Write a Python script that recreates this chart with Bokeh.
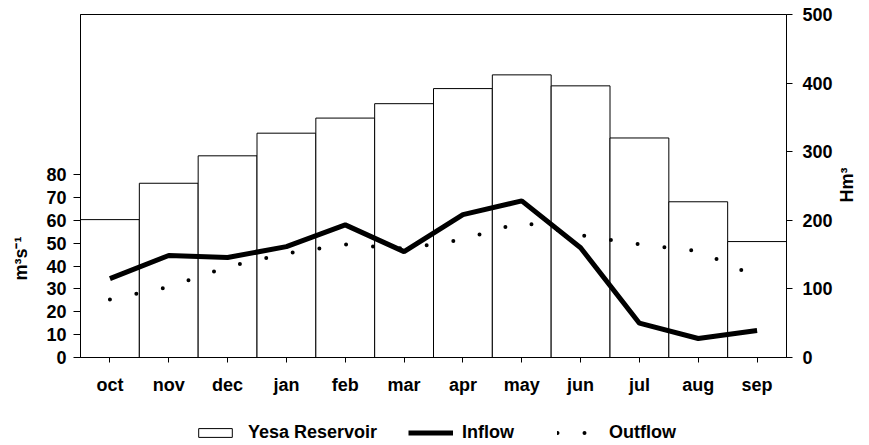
import math
from bokeh.plotting import figure
from bokeh.layouts import column
from bokeh.models import (Range1d, LinearAxis, FixedTicker, Legend, LegendItem,
                          ColumnDataSource, FactorRange)
from bokeh.embed import file_html
from bokeh.resources import INLINE

months = ["oct", "nov", "dec", "jan", "feb", "mar", "apr", "may", "jun", "jul", "aug", "sep"]
reservoir = [201, 254, 294, 327, 349, 370, 392, 412, 396, 320, 227, 169]   # Hm3
inflow = [34.5, 44.6, 43.7, 48.5, 58.0, 46.3, 62.5, 68.5, 48.0, 15.0, 8.3, 11.8]  # m3/s
outflow = [25.4, 30.8, 39.7, 45.5, 49.4, 47.6, 51.6, 59.2, 53.5, 49.5, 46.5, 35.3]  # m3/s
left_ticks = [0, 10, 20, 30, 40, 50, 60, 70, 80]
right_ticks = [0, 100, 200, 300, 400, 500]
legend_labels = ["Yesa Reservoir", "Inflow", "Outflow"]

FONT = "Liberation Sans"
FS = "18px"

src = ColumnDataSource(dict(month=months, reservoir=reservoir, inflow=inflow, outflow=outflow))

p = figure(width=869, height=400, x_range=FactorRange(*months, range_padding=0),
           y_range=Range1d(0, 150), output_backend="svg", toolbar_location=None,
           title=None, min_border_left=80, min_border_right=79, min_border_top=14,
           min_border_bottom=43)
p.extra_y_ranges = {"vol": Range1d(0, 500)}
p.grid.visible = False
p.outline_line_color = "black"
p.outline_line_width = 1
p.background_fill_color = "white"
p.border_fill_color = "white"

bar_style = dict(fill_color="white", line_color="black", line_width=1)
in_style = dict(line_color="black", line_width=5)
out_style = dict(line_color="black", line_width=4, line_dash="0 27", line_cap="round")

p.vbar(x="month", top="reservoir", width=1.0, source=src, y_range_name="vol", **bar_style)
p.line(x="month", y="inflow", source=src, **in_style)
p.line(x="month", y="outflow", source=src, **out_style)

def style_axis(ax):
    ax.major_label_text_font = FONT
    ax.major_label_text_font_style = "bold"
    ax.major_label_text_font_size = FS
    ax.major_label_text_color = "black"
    ax.axis_label_text_font = FONT
    ax.axis_label_text_font_style = "bold"
    ax.axis_label_text_font_size = FS
    ax.axis_label_text_color = "black"
    ax.axis_line_color = "black"
    ax.major_tick_line_color = "black"
    ax.minor_tick_line_color = None
    ax.major_tick_in = 0

xa = p.xaxis[0]
style_axis(xa)
xa.major_tick_out = 5
xa.major_label_standoff = 12

ya = p.yaxis[0]
style_axis(ya)
ya.ticker = FixedTicker(ticks=left_ticks)
ya.major_tick_out = 7
ya.major_label_standoff = 7
ya.axis_label = "m³s⁻¹" + "\u00a0" * 29
ya.axis_label_standoff = 12

ra = LinearAxis(y_range_name="vol", ticker=FixedTicker(ticks=right_ticks))
style_axis(ra)
ra.major_tick_out = 6
ra.major_label_standoff = 10
ra.axis_label = "Hm³"
ra.axis_label_standoff = 11
if "axis_label_orientation" in ra.properties():
    ra.axis_label_orientation = math.pi / 2
    if "axis_label_align" in ra.properties():
        ra.axis_label_align = "start"
        ra.axis_label = "\u00a0" * 31 + "Hm³"
p.add_layout(ra, "right")

# legend strip below the chart (dummy renderers sit outside the visible range)
lf = figure(width=869, height=45, x_range=Range1d(0, 869), y_range=Range1d(0, 45),
            output_backend="svg", toolbar_location=None, title=None,
            x_axis_type=None, y_axis_type=None, min_border=0)
lf.grid.visible = False
lf.outline_line_color = None
lf.background_fill_color = "white"
r1 = lf.vbar(x=[-100], top=[-50], width=1.0, **bar_style)
r2 = lf.line(x=[-100, -90], y=[-50, -50], **in_style)
r3 = lf.line(x=[-100, -90], y=[-50, -50], **out_style)

def mk_legend(label, rend, x, gw, standoff):
    return Legend(items=[LegendItem(label=label, renderers=[rend])], location=(x, 2),
                  orientation="horizontal", glyph_width=gw, glyph_height=11,
                  label_height=14, label_standoff=standoff, padding=0, margin=0,
                  border_line_color=None, background_fill_alpha=0,
                  label_text_font=FONT, label_text_font_style="bold",
                  label_text_font_size=FS, label_text_color="black")

# legend x positions are relative to the aligned frame (left edge at x=80)
lf.add_layout(mk_legend(legend_labels[0], r1, 114, 42, 12))
lf.add_layout(mk_legend(legend_labels[1], r2, 328, 45, 9))
lf.add_layout(mk_legend(legend_labels[2], r3, 477, 40, 12))

layout = column(p, lf, spacing=0)
open("out.html", "w").write(file_html(layout, INLINE))
